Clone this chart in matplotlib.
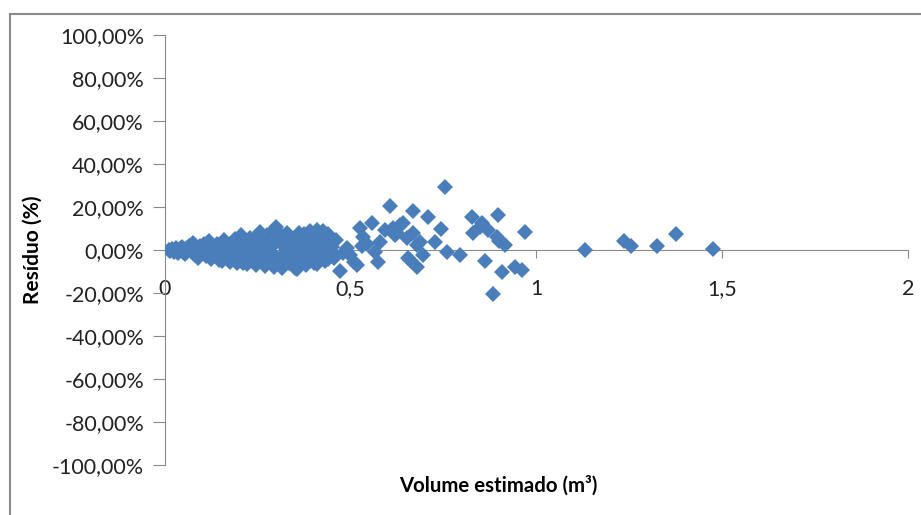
import matplotlib.pyplot as plt
from matplotlib.lines import Line2D
from matplotlib.ticker import FuncFormatter

# Volume estimado (m³) e resíduo (%)
volume = [
    0.01, 0.015, 0.02, 0.025, 0.03, 0.035, 0.04, 0.045, 0.05, 0.055,
    0.06, 0.065, 0.07, 0.075, 0.08, 0.085, 0.09, 0.095, 0.10, 0.105,
    0.11, 0.115, 0.12, 0.125, 0.13, 0.135, 0.14, 0.145, 0.15, 0.155,
    0.16, 0.165, 0.17, 0.175, 0.18, 0.185, 0.19, 0.195, 0.20, 0.205,
    0.21, 0.215, 0.22, 0.225, 0.23, 0.235, 0.24, 0.245, 0.25, 0.255,
    0.26, 0.265, 0.27, 0.275, 0.28, 0.285, 0.29, 0.295, 0.30, 0.305,
    0.31, 0.315, 0.32, 0.325, 0.33, 0.335, 0.34, 0.345, 0.35, 0.355,
    0.36, 0.365, 0.37, 0.375, 0.38, 0.385, 0.39, 0.395, 0.40, 0.405,
    0.41, 0.415, 0.42, 0.425, 0.43, 0.435, 0.44, 0.445, 0.45, 0.455,
    0.46, 0.12, 0.22, 0.27, 0.33, 0.37, 0.40, 0.43,
    0.07, 0.09, 0.11, 0.14, 0.16, 0.18, 0.19, 0.21, 0.23, 0.24,
    0.26, 0.27, 0.28, 0.29, 0.30, 0.31, 0.32, 0.33, 0.34, 0.35,
    0.36, 0.37, 0.38, 0.39, 0.40, 0.41, 0.42, 0.43, 0.44, 0.45,
    0.25, 0.28, 0.31, 0.34, 0.36, 0.39, 0.42, 0.44, 0.21, 0.17,
    0.471, 0.48, 0.49, 0.498, 0.51, 0.517, 0.525, 0.53, 0.533, 0.545,
    0.557, 0.565, 0.573, 0.58, 0.592, 0.605, 0.614, 0.619, 0.624, 0.633,
    0.641, 0.651, 0.654, 0.66, 0.668, 0.668, 0.678, 0.678, 0.686, 0.694,
    0.708, 0.727, 0.743, 0.754, 0.759, 0.794, 0.826, 0.829, 0.848, 0.853,
    0.861, 0.87, 0.883, 0.893, 0.896, 0.90, 0.907, 0.915, 0.942, 0.961,
    0.969, 1.13, 1.236, 1.254, 1.324, 1.376, 1.475,
]
residuo = [
    0.0, -0.5, 0.5, -1.0, 1.0, -1.5, 0.5, 1.5, -1.0, -2.0,
    1.0, 2.0, -0.5, 3.5, -2.5, 1.0, -3.5, 2.0, -1.0, 3.0,
    -3.0, 0.5, 4.0, -4.0, 1.5, -2.0, 3.0, -4.5, 0.0, -5.0,
    4.5, -2.5, 2.0, -5.5, 3.5, -1.0, 5.0, -6.0, 1.0, 7.0,
    -3.5, 4.0, -6.5, 2.0, 5.5, -5.0, 0.0, -7.0, 6.5, 8.5,
    -2.0, 3.5, -7.5, 7.0, -5.0, 1.5, 9.0, -8.0, 10.5, 4.0,
    -3.5, -8.5, 6.0, 0.5, 8.0, -6.0, -1.0, 3.0, -8.5, -9.0,
    5.0, -4.0, 1.0, 7.5, -7.0, -2.0, 9.0, 3.5, -6.0, 6.0,
    9.5, -3.0, 0.0, 9.0, -5.0, 4.0, 7.5, -2.0, 1.5, -3.5,
    4.5, -1.0, -1.0, 2.0, -3.0, -5.0, 2.0, -1.0,
    1.5, 0.0, 1.5, -1.0, 1.0, -3.0, 2.0, 0.5, -2.0, 3.0,
    5.0, -4.0, 3.0, -2.0, 7.0, -6.0, 2.5, -4.5, 5.5, 0.0,
    -6.5, 4.0, 3.0, -4.5, 4.0, -6.5, 6.0, 2.0, -4.0, -1.0,
    -4.5, -2.0, 7.5, -3.5, 8.0, 6.5, 5.0, 3.0, -6.0, -3.5,
    -9.8, -1.5, 1.0, -2.3, -5.5, -7.0, 10.2, 2.0, 6.0, 3.0,
    12.6, -1.0, -5.6, 3.7, 9.5, 20.5, 10.2, 7.0, 7.9, 11.6,
    12.6, 5.6, -3.7, -4.7, 18.1, 7.9, 2.3, -7.9, 3.7, -2.3,
    15.4, 3.7, 9.8, 29.3, -0.9, -2.3, 15.4, 7.9, 10.7, 12.6,
    -5.1, 9.3, -20.5, 6.0, 16.3, 4.0, -10.2, 2.3, -7.9, -9.3,
    8.4, 0.0, 4.2, 1.9, 1.9, 7.4, 0.5,
]

x_ticks = [0, 0.5, 1, 1.5, 2]
x_labels = ["0", "0,5", "1", "1,5", "2"]
y_ticks = [-1.0, -0.8, -0.6, -0.4, -0.2, 0.0, 0.2, 0.4, 0.6, 0.8, 1.0]

plt.rcParams["font.family"] = ["Lato", "DejaVu Sans"]

fig = plt.figure(figsize=(9.21, 5.15), dpi=100)
ax = fig.add_axes([0.179, 0.097, 0.807, 0.835])

ax.plot(volume, [r / 100 for r in residuo], linestyle="none", marker="D",
        markersize=8.3, color="#4a7ebb", markeredgewidth=0, zorder=3)

ax.set_xlim(0, 2)
ax.set_ylim(-1, 1)

cinza = "#8a8a8a"
ax.spines["top"].set_visible(False)
ax.spines["right"].set_visible(False)
ax.spines["bottom"].set_position(("data", 0))
ax.spines["left"].set_color(cinza)
ax.spines["bottom"].set_color(cinza)

ax.set_xticks(x_ticks)
ax.set_xticklabels(x_labels)
ax.set_yticks(y_ticks)
ax.yaxis.set_major_formatter(FuncFormatter(
    lambda v, p: ("%.2f%%" % (v * 100)).replace(".", ",")))
ax.tick_params(axis="y", direction="out", length=9, color=cinza,
               labelsize=15.5, pad=6, labelcolor="#222222")
ax.tick_params(axis="x", direction="out", length=6, color=cinza,
               labelsize=15.5, pad=15, labelcolor="#222222")

fig.text(0.035, 0.515, "Resíduo (%)", rotation=90, ha="center", va="center",
         fontsize=15, fontweight="bold")
fig.text(0.541, 0.058, "Volume estimado (m³)", ha="center", va="center",
         fontsize=14.7, fontweight="bold")

# moldura do gráfico
fig.add_artist(Line2D([10 / 921, 10 / 921], [0, 1 - 14 / 515],
                      color=cinza, linewidth=1.5, transform=fig.transFigure))
fig.add_artist(Line2D([10 / 921, 1], [1 - 14 / 515, 1 - 14 / 515],
                      color=cinza, linewidth=1.5, transform=fig.transFigure))

fig.savefig("out.png", dpi=100)
